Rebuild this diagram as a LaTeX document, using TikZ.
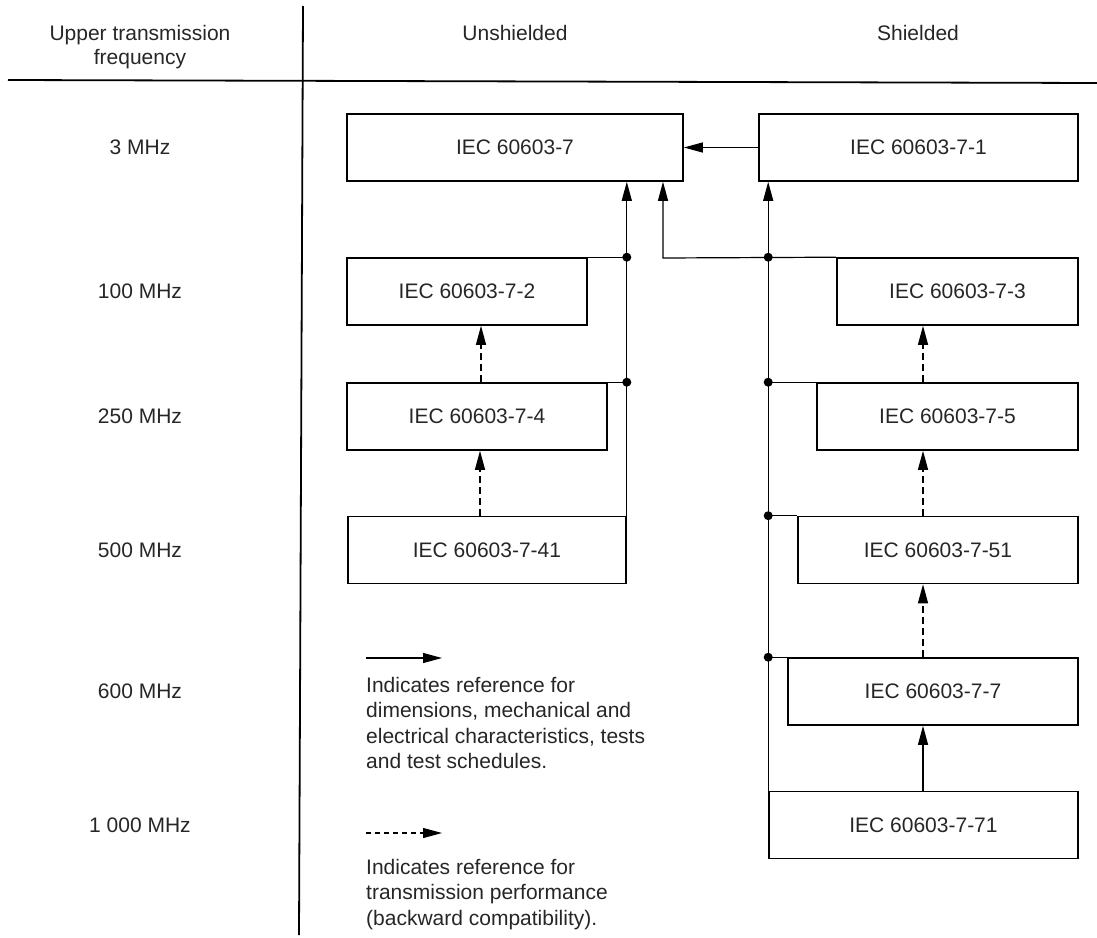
\documentclass[tikz,border=0pt]{standalone}
\usepackage{fontspec}
\setmainfont{Liberation Sans}
\usetikzlibrary{arrows.meta,calc}
\newcommand{\fsz}{\fontsize{21}{25.5}\selectfont}
\begin{document}
\begin{tikzpicture}[x=1pt,y=-1pt,
  stdbox/.style={draw, line width=1.6pt, minimum height=67pt, inner sep=0pt, font=\fsz, text=black!85},
  lbl/.style={font=\fsz, inner sep=0pt, text=black!85},
  conn/.style={line width=1.2pt},
  arr/.style={conn, -{Triangle[length=19pt,width=10pt]}},
  darr/.style={arr, dash pattern=on 7pt off 4pt},
  rule/.style={line width=1.8pt}]
\useasboundingbox (0,0) rectangle (1097,937);
% header rules
\coordinate (hl) at (8,80);
\coordinate (hr) at (1097,83);
\coordinate (vt) at (303,6);
\coordinate (vb) at (299,935);
\draw[rule] (hl) -- (hr);
\draw[rule] (vt) -- (vb);
% header texts
\node[lbl, anchor=base] (h1) at (140,40) {Upper transmission};
\node[lbl, anchor=base] (h2) at (140,64) {frequency};
\node[lbl, anchor=base] (hu) at (515,40) {Unshielded};
\node[lbl, anchor=base] (hs) at (918,40) {Shielded};
% frequencies
\node[lbl] (f1) at (140,147.5) {3 MHz};
\node[lbl] (f2) at (140,291.5) {100 MHz};
\node[lbl] (f3) at (140,416.5) {250 MHz};
\node[lbl] (f4) at (140,550) {500 MHz};
\node[lbl] (f5) at (140,691.5) {600 MHz};
\node[lbl] (f6) at (140,825) {1 000 MHz};
% boxes
\node[stdbox, minimum width=336pt] (b7)   at (515,147.5) {IEC 60603-7};
\node[stdbox, minimum width=319pt] (b71)  at (918.5,147.5) {IEC 60603-7-1};
\node[stdbox, minimum width=240pt] (b72)  at (467,291.5) {IEC 60603-7-2};
\node[stdbox, minimum width=241pt] (b73)  at (957.5,291.5) {IEC 60603-7-3};
\node[stdbox, minimum width=260pt] (b74)  at (477,416.5) {IEC 60603-7-4};
\node[stdbox, minimum width=261pt] (b75)  at (947.5,416.5) {IEC 60603-7-5};
\node[stdbox, minimum width=278pt] (b741) at (487,550) {IEC 60603-7-41};
\node[stdbox, minimum width=280pt] (b751) at (938,550) {IEC 60603-7-51};
\node[stdbox, minimum width=290pt] (b77)  at (933,691.5) {IEC 60603-7-7};
\node[stdbox, minimum width=309pt] (b771) at (923.5,825) {IEC 60603-7-71};
% junction coordinates
\coordinate (L1) at (b741.north east |- b72.north);
\coordinate (L2) at (b741.north east |- b74.north);
\coordinate (R1) at (b771.north west |- b73.north);
\coordinate (R2) at (b771.north west |- b75.north);
\coordinate (R3) at (b771.north west |- b751.north);
\coordinate (R4) at (b771.north west |- b77.north);
\coordinate (mx) at (663,258);
\coordinate (ux) at (481,0);
\coordinate (sx) at (923,0);
% connectors
\draw[arr] (b71.west) -- (b7.east);
\draw[arr] (b741.north east) -- (b741.north east |- b7.south);
\draw[conn] (b72.north east) -- (L1);
\draw[conn] (b74.north east) -- (L2);
\draw[arr] (b73.north west) -- (mx) -- (mx |- b7.south);
\draw[arr] (b771.north west) -- (b771.north west |- b71.south);
\draw[conn] (R2) -- (b75.north west);
\draw[conn] (R3) -- (b751.north west);
\draw[conn] (R4) -- (b77.north west);
\draw[darr] (b74.north -| ux) -- (b72.south -| ux);
\draw[darr] ($(b741.north -| ux)+(-1,0)$) -- ($(b74.south -| ux)+(-1,0)$);
\draw[darr] (b75.north -| sx) -- (b73.south -| sx);
\draw[darr] (b751.north -| sx) -- (b75.south -| sx);
\draw[darr] (b77.north -| sx) -- (b751.south -| sx);
\draw[arr] (b771.north -| sx) -- (b77.south -| sx);
\foreach \p in {L1,L2,R1,R2,R3,R4} \fill (\p) circle (4.5pt);
% legend
\coordinate (la1) at (366,658);
\coordinate (la2) at (442,658);
\coordinate (la3) at (366,833);
\coordinate (la4) at (442,833);
\draw[arr] (la1) -- (la2);
\draw[conn, -{Triangle[length=19pt,width=10pt]}, dash pattern=on 5pt off 4pt] (la3) -- (la4);
\node[lbl, anchor=base west] (t1) at (366,692) {Indicates reference for};
\node[lbl, anchor=base west] (t2) at (366,717.5) {dimensions, mechanical and};
\node[lbl, anchor=base west] (t3) at (366,743) {electrical characteristics, tests};
\node[lbl, anchor=base west] (t4) at (366,768.5) {and test schedules.};
\node[lbl, anchor=base west] (t5) at (366,874) {Indicates reference for};
\node[lbl, anchor=base west] (t6) at (366,899.5) {transmission performance};
\node[lbl, anchor=base west] (t7) at (366,925) {(backward compatibility).};
\end{tikzpicture}
\end{document}
